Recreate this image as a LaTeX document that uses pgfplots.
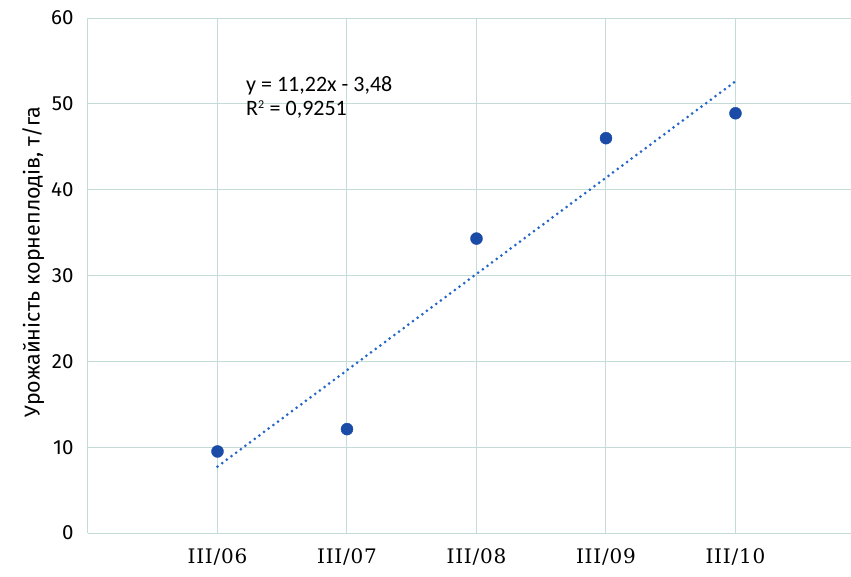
\documentclass[border=0pt]{standalone}
\usepackage{pgfplots}
\pgfplotsset{compat=1.18}
\usepackage{fontspec}
\setmainfont{Fira Sans}
\newfontfamily\serifx[LetterSpace=4]{DejaVu Serif}
\newfontfamily\eqfont{Carlito}
\definecolor{gridc}{HTML}{C3DCD7}
\definecolor{markc}{HTML}{1A4BA6}
\definecolor{trendc}{HTML}{2566C8}
\begin{document}
\begin{tikzpicture}
\useasboundingbox (0,0) rectangle (851pt,576pt);
\begin{axis}[
  at={(88pt,43pt)}, anchor=south west,
  scale only axis, width=763pt, height=515pt,
  xmin=0, xmax=5.892, ymin=0, ymax=60,
  xtick={1,2,3,4,5},
  xticklabels={III/06,III/07,III/08,III/09,III/10},
  ytick={0,10,20,30,40,50,60},
  axis lines*=left,
  axis line style={gridc, line width=1pt, -},
  grid=both, grid style={gridc, line width=1pt},
  extra x ticks={0}, extra x tick labels={}, extra x tick style={grid=major},
  major tick length=0pt,
  tick style={draw=none},
  /pgf/number format/assume math mode=true,
  yticklabel style={font=\fontsize{20.5}{24}\selectfont, xshift=-11pt},
  xticklabel style={font=\serifx\fontsize{20}{24}\selectfont, yshift=-12pt},
  every axis y label/.style={at={(ticklabel cs:0.53)}, rotate=90, anchor=near ticklabel, xshift=-2pt, font=\fontsize{21.5}{24}\selectfont},
  ylabel={Урожайність корнеплодів, т/га},
  clip=false,
]
\addplot[trendc, line width=3pt, dash pattern=on 0pt off 5.8pt, line cap=round] coordinates {(1,7.74) (5,52.62)};
\addplot[only marks, mark=*, mark size=6pt, mark options={fill=markc, draw=markc}] coordinates {
  (1,9.5) (2,12.1) (3,34.3) (4,46.0) (5,48.9)};
\node[anchor=west, align=left, font=\eqfont\fontsize{22}{24}\selectfont, inner sep=0pt] at (axis cs:1.22,50.7) {y = 11,22x - 3,48\\R\textsuperscript{\fontsize{12}{13}\selectfont 2} = 0,9251};
\end{axis}
\end{tikzpicture}
\end{document}
